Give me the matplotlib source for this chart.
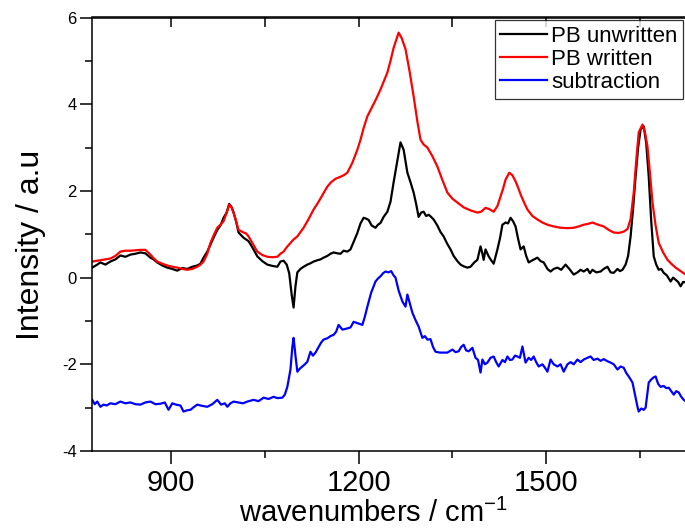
import numpy as np
import matplotlib
matplotlib.use("Agg")
import matplotlib.pyplot as plt
from matplotlib.ticker import MultipleLocator

plt.rcParams["font.family"] = ["Liberation Sans", "DejaVu Sans"]
plt.rcParams["mathtext.fontset"] = "custom"
plt.rcParams["mathtext.rm"] = "Liberation Sans"
plt.rcParams["mathtext.default"] = "regular"
plt.rcParams["axes.unicode_minus"] = False

# PB unwritten (black)
wn_unwritten = [774, 782, 787, 795, 803, 811, 819, 827, 835, 843, 851, 859, 867, 872, 878, 886,
                894, 902, 910, 918, 926, 934, 942, 947, 952, 958, 963, 969, 974, 979, 984, 989,
                993, 997, 1000, 1004, 1008, 1012, 1016, 1020, 1024, 1030, 1038, 1046, 1054, 1062,
                1070, 1075, 1080, 1085, 1089, 1093, 1096, 1099, 1102, 1107, 1112, 1118, 1123, 1128,
                1134, 1139, 1144, 1150, 1155, 1160, 1166, 1171, 1176, 1182, 1187, 1192, 1198, 1203,
                1208, 1212, 1216, 1221, 1227, 1231, 1235, 1240, 1246, 1251, 1256, 1262, 1267, 1272,
                1278, 1283, 1288, 1292, 1296, 1300, 1304, 1308, 1312, 1316, 1320, 1326, 1331, 1336,
                1341, 1347, 1352, 1358, 1363, 1368, 1374, 1379, 1385, 1390, 1395, 1398, 1400, 1403,
                1408, 1412, 1416, 1422, 1426, 1430, 1435, 1439, 1443, 1447, 1451, 1455, 1459, 1464,
                1468, 1472, 1478, 1486, 1491, 1496, 1502, 1507, 1512, 1518, 1524, 1531, 1537, 1544,
                1550, 1555, 1560, 1566, 1570, 1574, 1580, 1587, 1592, 1598, 1603, 1608, 1614, 1618,
                1622, 1627, 1631, 1635, 1639, 1643, 1647, 1651, 1656, 1660, 1664, 1668, 1672, 1676,
                1680, 1684, 1688, 1693, 1699, 1703, 1707, 1711, 1715, 1719, 1723]
int_unwritten = [0.23, 0.30, 0.35, 0.30, 0.37, 0.42, 0.51, 0.48, 0.53, 0.55, 0.58, 0.56, 0.46, 0.42, 0.35, 0.28,
                 0.23, 0.20, 0.16, 0.22, 0.20, 0.25, 0.28, 0.32, 0.46, 0.60, 0.76, 0.95, 1.10, 1.20, 1.38, 1.50,
                 1.70, 1.62, 1.50, 1.30, 1.04, 0.98, 0.92, 0.88, 0.84, 0.70, 0.49, 0.38, 0.30, 0.27,
                 0.25, 0.37, 0.39, 0.30, 0.10, -0.40, -0.69, -0.20, 0.12, 0.20, 0.25, 0.30, 0.33, 0.37,
                 0.40, 0.42, 0.46, 0.50, 0.55, 0.58, 0.56, 0.55, 0.62, 0.60, 0.65, 0.82, 1.03, 1.25,
                 1.38, 1.36, 1.33, 1.20, 1.15, 1.22, 1.26, 1.40, 1.52, 1.75, 2.20, 2.70, 3.12, 2.95,
                 2.42, 2.20, 1.96, 1.70, 1.40, 1.50, 1.52, 1.42, 1.45, 1.40, 1.34, 1.20, 1.05, 0.95,
                 0.80, 0.65, 0.50, 0.38, 0.30, 0.26, 0.23, 0.25, 0.35, 0.41, 0.72, 0.55, 0.41, 0.65,
                 0.49, 0.40, 0.32, 0.65, 0.90, 1.22, 1.27, 1.25, 1.38, 1.30, 1.18, 0.90, 0.65, 0.72,
                 0.50, 0.35, 0.40, 0.46, 0.38, 0.35, 0.20, 0.14, 0.20, 0.23, 0.18, 0.30, 0.20, 0.07,
                 0.12, 0.18, 0.14, 0.20, 0.10, 0.18, 0.12, 0.14, 0.20, 0.25, 0.12, 0.11, 0.20, 0.15,
                 0.18, 0.30, 0.50, 0.95, 1.60, 2.33, 3.00, 3.42, 3.49, 3.10, 2.33, 1.30, 0.49, 0.30,
                 0.18, 0.20, 0.11, 0.05, -0.09, 0.00, -0.05, -0.10, -0.20, -0.10, -0.11]

# PB written (red)
wn_written = [774, 782, 790, 803, 811, 819, 827, 835, 843, 851, 859, 867, 872, 878, 886, 894,
              902, 910, 918, 926, 934, 942, 947, 952, 958, 963, 969, 974, 979, 984, 989, 993,
              997, 1000, 1004, 1008, 1012, 1016, 1020, 1024, 1030, 1038, 1046, 1054, 1062, 1070,
              1075, 1080, 1085, 1091, 1096, 1102, 1107, 1112, 1120, 1128, 1136, 1144, 1150, 1156,
              1163, 1170, 1176, 1182, 1190, 1198, 1203, 1208, 1214, 1222, 1228, 1235, 1241, 1246,
              1251, 1256, 1264, 1269, 1275, 1281, 1288, 1294, 1299, 1304, 1310, 1318, 1326, 1334,
              1342, 1350, 1358, 1368, 1379, 1390, 1396, 1403, 1409, 1416, 1422, 1427, 1431, 1435,
              1441, 1446, 1451, 1455, 1459, 1465, 1470, 1478, 1486, 1494, 1502, 1512, 1523, 1534,
              1544, 1552, 1560, 1567, 1574, 1583, 1592, 1600, 1608, 1616, 1624, 1630, 1635, 1640,
              1644, 1648, 1654, 1658, 1662, 1666, 1670, 1675, 1680, 1687, 1694, 1700, 1707, 1715, 1723]
int_written = [0.37, 0.39, 0.41, 0.44, 0.50, 0.60, 0.62, 0.62, 0.63, 0.64, 0.64, 0.53, 0.45, 0.37, 0.32, 0.28,
               0.25, 0.23, 0.20, 0.18, 0.20, 0.25, 0.30, 0.37, 0.55, 0.80, 1.00, 1.15, 1.22, 1.30, 1.50, 1.68,
               1.62, 1.50, 1.30, 1.10, 1.07, 1.04, 1.02, 0.95, 0.80, 0.60, 0.52, 0.48, 0.47, 0.48,
               0.55, 0.60, 0.70, 0.80, 0.88, 0.95, 1.05, 1.15, 1.35, 1.57, 1.75, 1.95, 2.10, 2.20,
               2.28, 2.32, 2.36, 2.42, 2.65, 2.95, 3.18, 3.45, 3.72, 3.95, 4.12, 4.34, 4.55, 4.73,
               5.00, 5.30, 5.65, 5.52, 5.27, 4.80, 4.18, 3.60, 3.18, 3.07, 3.00, 2.80, 2.56, 2.25,
               1.96, 1.82, 1.73, 1.62, 1.55, 1.50, 1.52, 1.61, 1.58, 1.52, 1.65, 1.87, 2.05, 2.26,
               2.42, 2.36, 2.22, 2.08, 1.92, 1.72, 1.57, 1.42, 1.34, 1.27, 1.22, 1.18, 1.15, 1.14,
               1.15, 1.18, 1.22, 1.24, 1.27, 1.22, 1.18, 1.10, 1.04, 1.03, 1.06, 1.12, 1.35, 1.96,
               2.70, 3.35, 3.53, 3.35, 3.02, 2.40, 1.73, 1.20, 0.80, 0.58, 0.41, 0.32, 0.23, 0.15, 0.07]

# subtraction (blue)
wn_subtraction = [774, 778, 782, 787, 792, 797, 803, 811, 819, 827, 835, 843, 851, 859, 867, 875,
                  883, 890, 896, 902, 908, 915, 920, 926, 931, 937, 942, 950, 958, 966, 974, 980,
                  986, 990, 995, 1000, 1008, 1015, 1022, 1027, 1032, 1040, 1048, 1056, 1064, 1070,
                  1078, 1082, 1086, 1091, 1094, 1096, 1099, 1102, 1106, 1110, 1114, 1118, 1123, 1127,
                  1131, 1136, 1140, 1144, 1150, 1155, 1160, 1164, 1168, 1174, 1180, 1187, 1192, 1198,
                  1206, 1210, 1214, 1220, 1227, 1231, 1235, 1239, 1243, 1248, 1252, 1256, 1259, 1264,
                  1270, 1275, 1278, 1282, 1286, 1291, 1296, 1302, 1306, 1310, 1315, 1319, 1323, 1330,
                  1336, 1342, 1350, 1355, 1360, 1364, 1368, 1372, 1376, 1382, 1387, 1391, 1395, 1398,
                  1402, 1406, 1411, 1416, 1420, 1424, 1430, 1434, 1438, 1442, 1446, 1450, 1454, 1458,
                  1462, 1467, 1472, 1476, 1480, 1484, 1488, 1494, 1498, 1502, 1507, 1512, 1518, 1523,
                  1528, 1534, 1539, 1544, 1550, 1555, 1560, 1566, 1571, 1576, 1582, 1587, 1592, 1598,
                  1603, 1608, 1614, 1619, 1624, 1628, 1632, 1638, 1642, 1646, 1648, 1652, 1656, 1659,
                  1662, 1664, 1668, 1672, 1675, 1679, 1683, 1688, 1692, 1696, 1700, 1704, 1708, 1712,
                  1716, 1720, 1723]
int_subtraction = [-2.82, -2.92, -2.86, -2.98, -2.93, -2.95, -2.90, -2.92, -2.86, -2.90, -2.88, -2.92, -2.93, -2.88, -2.86, -2.92,
                   -2.91, -2.88, -3.05, -2.90, -2.93, -2.95, -3.09, -3.06, -3.05, -2.98, -2.93, -2.96, -2.98, -2.92, -2.82, -2.93,
                   -2.90, -2.98, -2.90, -2.86, -2.88, -2.90, -2.86, -2.84, -2.82, -2.85, -2.77, -2.80, -2.75, -2.78,
                   -2.77, -2.70, -2.52, -2.12, -1.60, -1.39, -1.80, -2.17, -2.10, -2.05, -2.00, -1.94, -1.71, -1.80,
                   -1.73, -1.60, -1.50, -1.43, -1.40, -1.35, -1.32, -1.25, -1.09, -1.20, -1.18, -1.15, -1.02, -1.05,
                   -1.09, -0.90, -0.67, -0.35, -0.09, -0.02, 0.03, 0.10, 0.14, 0.12, 0.15, 0.05, 0.00, -0.30,
                   -0.55, -0.67, -0.39, -0.60, -0.81, -0.98, -1.13, -1.39, -1.35, -1.43, -1.42, -1.60, -1.71, -1.73,
                   -1.73, -1.73, -1.66, -1.72, -1.70, -1.60, -1.55, -1.68, -1.70, -1.62, -1.85, -1.90, -2.19, -1.89,
                   -2.00, -1.96, -1.85, -1.82, -1.95, -2.05, -1.90, -1.95, -1.82, -1.90, -1.89, -1.80, -1.82, -1.85,
                   -1.59, -1.96, -1.85, -1.90, -1.82, -1.95, -2.05, -2.00, -2.08, -2.17, -1.89, -2.00, -2.05, -2.00,
                   -2.17, -2.00, -1.95, -2.00, -1.89, -1.95, -1.89, -1.85, -1.82, -1.90, -1.87, -1.92, -1.88, -1.93,
                   -1.96, -2.00, -2.12, -2.05, -2.08, -2.20, -2.28, -2.42, -2.70, -2.98, -3.09, -3.02, -3.05, -3.00,
                   -2.65, -2.42, -2.35, -2.30, -2.28, -2.45, -2.52, -2.50, -2.55, -2.54, -2.62, -2.70, -2.62, -2.65,
                   -2.75, -2.82, -2.85]

fig = plt.figure(figsize=(6.85, 5.31), dpi=100)
ax = fig.add_axes([92 / 685, 80 / 531, 593 / 685, 433.5 / 531])

ax.plot(wn_unwritten, int_unwritten, color="black", lw=1.6, label="PB unwritten")
ax.plot(wn_written, int_written, color="#ff0000", lw=1.6, label="PB written")
ax.plot(wn_subtraction, int_subtraction, color="#0000ff", lw=1.6, label="subtraction")

ax.set_xlim(773.6, 1722)
ax.set_ylim(-4, 6)

ax.xaxis.set_major_locator(MultipleLocator(300))
ax.xaxis.set_minor_locator(MultipleLocator(150))
ax.yaxis.set_major_locator(MultipleLocator(2))
ax.yaxis.set_minor_locator(MultipleLocator(1))

for s in ax.spines.values():
    s.set_linewidth(1.1)
ax.spines["right"].set_visible(False)

ax.tick_params(axis="x", which="major", direction="out", length=9, width=1.1, labelsize=21, pad=4)
ax.tick_params(axis="x", which="minor", direction="out", length=5, width=1.1)
ax.tick_params(axis="y", which="major", direction="out", length=9, width=1.1, labelsize=12, pad=2)
ax.tick_params(axis="y", which="minor", direction="out", length=5, width=1.1)

# mirrored ticks on the top edge
top = ax.secondary_xaxis("top")
top.xaxis.set_major_locator(MultipleLocator(300))
top.xaxis.set_minor_locator(MultipleLocator(150))
top.tick_params(which="both", direction="in", length=7, width=1.1, labeltop=False)
top.spines["top"].set_linewidth(1.1)

ax.set_xlabel("wavenumbers / cm$^{-1}$", fontsize=21)
ax.set_ylabel("Intensity / a.u", fontsize=23)
ax.xaxis.set_label_coords(0.474, -0.11)
ax.yaxis.set_label_coords(-0.078, 0.475)

leg = ax.legend(loc="upper right", bbox_to_anchor=(0.997, 0.994), borderaxespad=0,
                fontsize=16, frameon=True, fancybox=False, handlelength=2.1,
                handletextpad=0.2, borderpad=0.25, labelspacing=0.1)
leg.get_frame().set_edgecolor("black")
leg.get_frame().set_linewidth(0.9)

fig.savefig("out.png", dpi=100)
